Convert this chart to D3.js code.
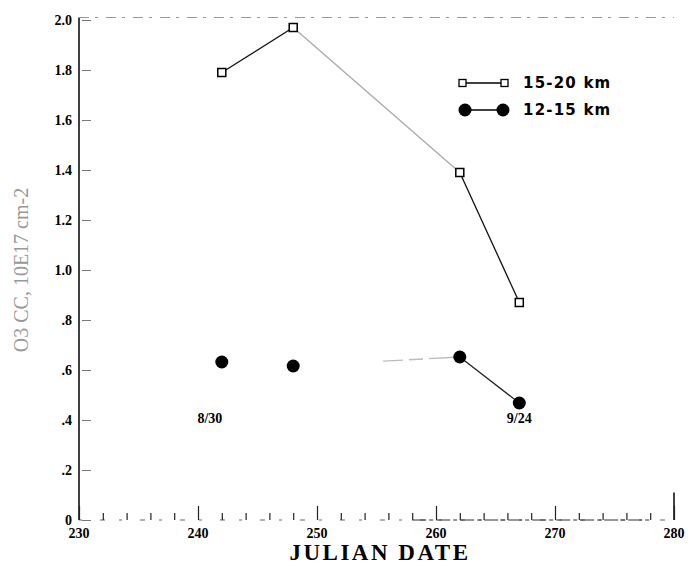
<!DOCTYPE html>
<html><head><meta charset="utf-8">
<script src="https://cdn.jsdelivr.net/npm/d3@7"></script>
<style>body{margin:0;background:#fff}</style>
</head><body>
<svg id="c" width="691" height="566"></svg>
<script>
const xTicks = [230, 240, 250, 260, 270, 280];
const yTicks = [0, 0.2, 0.4, 0.6, 0.8, 1.0, 1.2, 1.4, 1.6, 1.8, 2.0];
const yTickLabels = ["0", ".2", ".4", ".6", ".8", "1.0", "1.2", "1.4", "1.6", "1.8", "2.0"];
const days = [242, 248, 262, 267];
const high = [1.79, 1.97, 1.39, 0.87];   // 15-20 km
const low = [0.632, 0.616, 0.652, 0.468]; // 12-15 km
const seriesNames = ["15-20 km", "12-15 km"];
const dateNotes = [{d: 241, v: 0.41, t: "8/30"}, {d: 267, v: 0.41, t: "9/24"}];

const svg = d3.select("#c");
const x = d3.scaleLinear().domain([230, 280]).range([79, 674]);
const y = d3.scaleLinear().domain([0, 2.0]).range([520, 20]);
const serif = "'Liberation Serif','DejaVu Serif',serif";

// frame
svg.append("line").attr("x1", x(230)).attr("x2", x(230)).attr("y1", y(2.01)).attr("y2", y(0)).attr("stroke", "#000").attr("stroke-width", 1.5);
svg.append("line").attr("x1", x(230)).attr("x2", x(280)).attr("y1", y(0)).attr("y2", y(0)).attr("stroke", "#666").attr("stroke-width", 1).attr("stroke-dasharray", "3,18,5,14");
svg.append("line").attr("x1", x(258)).attr("x2", x(278)).attr("y1", y(0)).attr("y2", y(0)).attr("stroke", "#333").attr("stroke-width", 1).attr("stroke-dasharray", "14,3,4,3");
svg.append("line").attr("x1", x(230)).attr("x2", x(280)).attr("y1", y(2.01)).attr("y2", y(2.01)).attr("stroke", "#999").attr("stroke-width", 1).attr("stroke-dasharray", "10,6,3,8");
svg.append("line").attr("x1", x(280)).attr("x2", x(280)).attr("y1", y(0.11)).attr("y2", y(0)).attr("stroke", "#000").attr("stroke-width", 1.5);

// x axis ticks (inward)
const xAxis = d3.axisTop(x).tickValues(d3.range(230, 281, 2)).tickSize(5).tickFormat("");
const gx = svg.append("g").attr("transform", `translate(0,${y(0)})`).call(xAxis);
gx.select(".domain").remove();
gx.selectAll(".tick line").attr("stroke", "#222").attr("stroke-width", 1.2)
  .attr("y2", d => d % 10 === 0 ? -14 : -7);
svg.append("g").selectAll("text").data(xTicks).join("text")
  .attr("x", d => x(d)).attr("y", y(0) + 18).attr("text-anchor", "middle")
  .attr("font-family", serif).attr("font-weight", "bold").attr("font-size", 14).text(d => d);

// y axis ticks
const yAxis = d3.axisRight(y).tickValues(yTicks).tickSize(6).tickFormat("");
const gy = svg.append("g").attr("transform", `translate(${x(230)},0)`).call(yAxis);
gy.select(".domain").remove();
gy.selectAll(".tick line").attr("stroke", "#777").attr("stroke-width", 1).attr("x1", 3).attr("x2", 12);
svg.append("g").selectAll("text").data(yTicks).join("text")
  .attr("x", x(230) - 7).attr("y", d => y(d) + 5).attr("text-anchor", "end")
  .attr("font-family", serif).attr("font-weight", "bold").attr("font-size", 14)
  .text((d, i) => yTickLabels[i]);

// axis titles
svg.append("text").attr("x", 380).attr("y", 560).attr("text-anchor", "middle")
  .attr("font-family", serif).attr("font-weight", "bold").attr("font-size", 23).attr("letter-spacing", 2.5).text("JULIAN DATE");
svg.append("text").attr("transform", `translate(28,${y(1.0)}) rotate(-90)`).attr("text-anchor", "middle")
  .attr("font-family", serif).attr("font-size", 20).attr("fill", "#999").text("O3 CC, 10E17 cm-2");

// lines
const segColors = {high: ["#111", "#aaa", "#111"], low: ["none", "#bbb", "#222"]};
function drawSeries(vals, colors) {
  for (let i = 0; i < vals.length - 1; i++) {
    if (colors[i] === "none") continue;
    svg.append("line").attr("x1", x(days[i])).attr("y1", y(vals[i]))
      .attr("x2", x(days[i + 1])).attr("y2", y(vals[i + 1]))
      .attr("stroke", colors[i]).attr("stroke-width", 1.3)
      .attr("stroke-dasharray", colors[i] === "#bbb" ? "0,90,20,6,14,6,200" : null);
  }
}
drawSeries(high, segColors.high);
drawSeries(low, segColors.low);

svg.append("g").selectAll("rect").data(days).join("rect")
  .attr("x", d => x(d) - 4).attr("y", (d, i) => y(high[i]) - 4).attr("width", 8).attr("height", 8)
  .attr("fill", "#fff").attr("stroke", "#000").attr("stroke-width", 1.5);
svg.append("g").selectAll("circle").data(days).join("circle")
  .attr("cx", d => x(d)).attr("cy", (d, i) => y(low[i])).attr("r", 6.5).attr("fill", "#000");

// date notes
svg.append("g").selectAll("text").data(dateNotes).join("text")
  .attr("x", d => x(d.d)).attr("y", d => y(d.v) + 5).attr("text-anchor", "middle")
  .attr("font-family", serif).attr("font-weight", "bold").attr("font-size", 14).text(d => d.t);

// legend
const lg = svg.append("g");
lg.append("line").attr("x1", 463).attr("x2", 504).attr("y1", 83).attr("y2", 83).attr("stroke", "#000").attr("stroke-width", 1.5);
lg.append("rect").attr("x", 459).attr("y", 79.5).attr("width", 7).attr("height", 7).attr("fill", "#fff").attr("stroke", "#000").attr("stroke-width", 1.3);
lg.append("rect").attr("x", 501).attr("y", 79.5).attr("width", 7).attr("height", 7).attr("fill", "#fff").attr("stroke", "#000").attr("stroke-width", 1.3);
lg.append("line").attr("x1", 465).attr("x2", 503).attr("y1", 110).attr("y2", 110).attr("stroke", "#000").attr("stroke-width", 1.5);
lg.append("circle").attr("cx", 465).attr("cy", 110).attr("r", 6.5);
lg.append("circle").attr("cx", 503).attr("cy", 110).attr("r", 6.5);
lg.selectAll("text").data(seriesNames).join("text")
  .attr("x", 523).attr("y", (d, i) => 88 + i * 27)
  .attr("font-family", "'DejaVu Sans',sans-serif").attr("font-weight", "bold").attr("font-size", 15).attr("letter-spacing", 1.2).text(d => d);
</script>
</body></html>
